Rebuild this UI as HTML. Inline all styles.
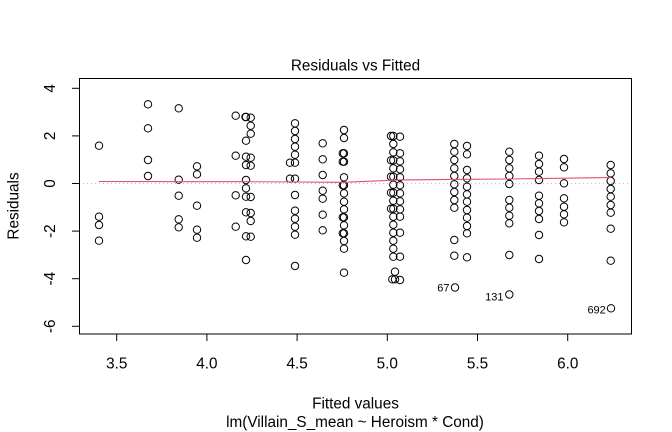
<!DOCTYPE html>
<html>
<head>
<meta charset="utf-8">
<style>
  html, body { margin: 0; padding: 0; background: #ffffff; }
  svg { display: block; }
  text { font-family: "Liberation Sans", Arial, sans-serif; fill: #000; }
</style>
</head>
<body>
<svg width="672" height="432" viewBox="0 0 672 432" xmlns="http://www.w3.org/2000/svg">
  <rect x="0" y="0" width="672" height="432" fill="#fff"/>

  <!-- zero reference line -->
  <line x1="79" y1="183.5" x2="632" y2="183.5" stroke="#bebebe" stroke-width="1" stroke-dasharray="1 3"/>

  <!-- points -->
  <g fill="none" stroke="#000" stroke-width="1">
    <!-- 3.41 -->
    <circle cx="99" cy="145.7" r="3.7"/><circle cx="99" cy="216.7" r="3.7"/><circle cx="99" cy="225" r="3.7"/><circle cx="99" cy="240.7" r="3.7"/>
    <!-- 3.68 -->
    <circle cx="148" cy="104.3" r="3.7"/><circle cx="148" cy="128.3" r="3.7"/><circle cx="148" cy="160" r="3.7"/><circle cx="148" cy="176" r="3.7"/>
    <!-- 3.84 -->
    <circle cx="178.7" cy="108.3" r="3.7"/><circle cx="178.7" cy="179.7" r="3.7"/><circle cx="178.7" cy="195.7" r="3.7"/><circle cx="178.7" cy="219.3" r="3.7"/><circle cx="178.7" cy="227.3" r="3.7"/>
    <!-- 3.95 -->
    <circle cx="197" cy="166.3" r="3.7"/><circle cx="197" cy="174.3" r="3.7"/><circle cx="197" cy="205.7" r="3.7"/><circle cx="197" cy="229.7" r="3.7"/><circle cx="197" cy="237.7" r="3.7"/>
    <!-- 4.17 -->
    <circle cx="235.7" cy="115.7" r="3.7"/><circle cx="235.7" cy="155.7" r="3.7"/><circle cx="235.7" cy="195.3" r="3.7"/><circle cx="235.7" cy="226.7" r="3.7"/>
    <!-- 4.22 -->
    <circle cx="246" cy="117" r="3.7"/><circle cx="245.5" cy="117" r="3.7"/><circle cx="246" cy="140.7" r="3.7"/><circle cx="246" cy="156.7" r="3.7"/><circle cx="246" cy="165" r="3.7"/><circle cx="246" cy="180" r="3.7"/><circle cx="246" cy="188.3" r="3.7"/><circle cx="246" cy="196.7" r="3.7"/><circle cx="246" cy="212.3" r="3.7"/><circle cx="246" cy="236.3" r="3.7"/><circle cx="246" cy="260" r="3.7"/>
    <!-- 4.25 -->
    <circle cx="250.7" cy="117.7" r="3.7"/><circle cx="250.7" cy="125.7" r="3.7"/><circle cx="250.7" cy="133.7" r="3.7"/><circle cx="250.7" cy="157.7" r="3.7"/><circle cx="250.7" cy="165.7" r="3.7"/><circle cx="250.7" cy="197" r="3.7"/><circle cx="250.7" cy="213" r="3.7"/><circle cx="250.7" cy="221" r="3.7"/><circle cx="250.7" cy="236.7" r="3.7"/>
    <!-- 4.49 -->
    <circle cx="295" cy="123.3" r="3.7"/><circle cx="295" cy="131" r="3.7"/><circle cx="295" cy="139" r="3.7"/><circle cx="295" cy="146.7" r="3.7"/><circle cx="295" cy="154.7" r="3.7"/><circle cx="295" cy="162.7" r="3.7"/><circle cx="290" cy="162.7" r="3.7"/><circle cx="295" cy="178.7" r="3.7"/><circle cx="290" cy="178.7" r="3.7"/><circle cx="295" cy="195" r="3.7"/><circle cx="295" cy="210.7" r="3.7"/><circle cx="295" cy="218.7" r="3.7"/><circle cx="295" cy="226.7" r="3.7"/><circle cx="295" cy="234.7" r="3.7"/><circle cx="295" cy="266" r="3.7"/>
    <!-- 4.64 -->
    <circle cx="322.7" cy="143.3" r="3.7"/><circle cx="322.7" cy="159.3" r="3.7"/><circle cx="322.7" cy="175" r="3.7"/><circle cx="322.7" cy="190.7" r="3.7"/><circle cx="322.7" cy="198.7" r="3.7"/><circle cx="322.7" cy="214.7" r="3.7"/><circle cx="322.7" cy="230.3" r="3.7"/>
    <!-- 4.76 -->
    <circle cx="344" cy="130" r="3.7"/><circle cx="344" cy="138" r="3.7"/><circle cx="344" cy="153.3" r="3.7"/><circle cx="342.8" cy="153.3" r="3.7"/><circle cx="344" cy="161.7" r="3.7"/><circle cx="342.8" cy="161.7" r="3.7"/><circle cx="344" cy="177.3" r="3.7"/><circle cx="344" cy="185.3" r="3.7"/><circle cx="342.8" cy="185.3" r="3.7"/><circle cx="344" cy="193.3" r="3.7"/><circle cx="344" cy="201.7" r="3.7"/><circle cx="344" cy="209.3" r="3.7"/><circle cx="344" cy="217.3" r="3.7"/><circle cx="342.8" cy="217.3" r="3.7"/><circle cx="344" cy="225.3" r="3.7"/><circle cx="344" cy="233.3" r="3.7"/><circle cx="342.8" cy="233.3" r="3.7"/><circle cx="344" cy="241" r="3.7"/><circle cx="344" cy="248.7" r="3.7"/><circle cx="344" cy="272.7" r="3.7"/>
    <!-- 5.03 -->
    <circle cx="393.3" cy="136" r="3.7"/><circle cx="391" cy="136" r="3.7"/><circle cx="393.3" cy="144" r="3.7"/><circle cx="393.3" cy="152.3" r="3.7"/><circle cx="393.3" cy="160.3" r="3.7"/><circle cx="391" cy="160.3" r="3.7"/><circle cx="393.3" cy="168.3" r="3.7"/><circle cx="393.3" cy="176.7" r="3.7"/><circle cx="391" cy="176.7" r="3.7"/><circle cx="393.3" cy="184.7" r="3.7"/><circle cx="393.3" cy="192.7" r="3.7"/><circle cx="391" cy="192.7" r="3.7"/><circle cx="393.3" cy="200.7" r="3.7"/><circle cx="393.3" cy="208.7" r="3.7"/><circle cx="391" cy="208.7" r="3.7"/><circle cx="393.3" cy="216.7" r="3.7"/><circle cx="393.3" cy="224.7" r="3.7"/><circle cx="393.3" cy="232.7" r="3.7"/><circle cx="393.3" cy="240.7" r="3.7"/><circle cx="393.3" cy="248.7" r="3.7"/><circle cx="393.3" cy="256.7" r="3.7"/><circle cx="395" cy="271.7" r="3.7"/><circle cx="392.3" cy="279.3" r="3.7"/><circle cx="395" cy="279.3" r="3.7"/>
    <!-- 5.07 -->
    <circle cx="400" cy="136.7" r="3.7"/><circle cx="400" cy="153.3" r="3.7"/><circle cx="400" cy="161.3" r="3.7"/><circle cx="400" cy="169.3" r="3.7"/><circle cx="400" cy="177.3" r="3.7"/><circle cx="400" cy="185.3" r="3.7"/><circle cx="400" cy="193.3" r="3.7"/><circle cx="400" cy="201.3" r="3.7"/><circle cx="400" cy="209.3" r="3.7"/><circle cx="400" cy="216.7" r="3.7"/><circle cx="400" cy="232.7" r="3.7"/><circle cx="400" cy="256.7" r="3.7"/><circle cx="400" cy="280" r="3.7"/>
    <!-- 5.37 -->
    <circle cx="454.3" cy="144" r="3.7"/><circle cx="454.3" cy="151.7" r="3.7"/><circle cx="454.3" cy="160" r="3.7"/><circle cx="454.3" cy="168.3" r="3.7"/><circle cx="454.3" cy="176" r="3.7"/><circle cx="454.3" cy="184.3" r="3.7"/><circle cx="454.3" cy="192" r="3.7"/><circle cx="454.3" cy="200" r="3.7"/><circle cx="454.3" cy="207.7" r="3.7"/><circle cx="454.3" cy="240" r="3.7"/><circle cx="454.3" cy="255.7" r="3.7"/><circle cx="455" cy="287.5" r="3.7"/>
    <!-- 5.44 -->
    <circle cx="467" cy="146" r="3.7"/><circle cx="467" cy="154.3" r="3.7"/><circle cx="467" cy="170" r="3.7"/><circle cx="467" cy="178.3" r="3.7"/><circle cx="467" cy="186.7" r="3.7"/><circle cx="467" cy="194.3" r="3.7"/><circle cx="467" cy="201.7" r="3.7"/><circle cx="467" cy="210" r="3.7"/><circle cx="467" cy="217.7" r="3.7"/><circle cx="467" cy="226" r="3.7"/><circle cx="467" cy="233.3" r="3.7"/><circle cx="467" cy="257.3" r="3.7"/>
    <!-- 5.67 -->
    <circle cx="509.3" cy="151.7" r="3.7"/><circle cx="509.3" cy="160" r="3.7"/><circle cx="509.3" cy="168.3" r="3.7"/><circle cx="509.3" cy="176" r="3.7"/><circle cx="509.3" cy="184" r="3.7"/><circle cx="509.3" cy="200" r="3.7"/><circle cx="509.3" cy="207.7" r="3.7"/><circle cx="509.3" cy="215.7" r="3.7"/><circle cx="509.3" cy="223.3" r="3.7"/><circle cx="509.3" cy="255" r="3.7"/><circle cx="509.3" cy="294.5" r="3.7"/>
    <!-- 5.84 -->
    <circle cx="539" cy="155.7" r="3.7"/><circle cx="539" cy="164" r="3.7"/><circle cx="539" cy="171.7" r="3.7"/><circle cx="539" cy="180" r="3.7"/><circle cx="539" cy="195.7" r="3.7"/><circle cx="539" cy="203.3" r="3.7"/><circle cx="539" cy="211" r="3.7"/><circle cx="539" cy="219" r="3.7"/><circle cx="539" cy="235" r="3.7"/><circle cx="539" cy="259" r="3.7"/>
    <!-- 5.98 -->
    <circle cx="564" cy="159" r="3.7"/><circle cx="564" cy="167.3" r="3.7"/><circle cx="564" cy="183.3" r="3.7"/><circle cx="564" cy="198.3" r="3.7"/><circle cx="564" cy="206.7" r="3.7"/><circle cx="564" cy="214.3" r="3.7"/><circle cx="564" cy="222.3" r="3.7"/>
    <!-- 6.24 -->
    <circle cx="610.7" cy="165" r="3.7"/><circle cx="610.7" cy="173.3" r="3.7"/><circle cx="610.7" cy="181" r="3.7"/><circle cx="610.7" cy="189" r="3.7"/><circle cx="610.7" cy="196.7" r="3.7"/><circle cx="610.7" cy="205" r="3.7"/><circle cx="610.7" cy="212.7" r="3.7"/><circle cx="610.7" cy="228.7" r="3.7"/><circle cx="610.7" cy="260.7" r="3.7"/><circle cx="611" cy="308.3" r="3.7"/>
  </g>

  <!-- smoother -->
  <polyline fill="none" stroke="#DF536B" stroke-width="1.1"
    points="99,181.5 148,181.6 197,181.7 246,181.7 295,182 322.7,182.2 344,182.3 393.3,180.2 400,179.9 454,179.4 467,179.3 509,179 539,178.6 564,178.2 611,177.6"/>

  <!-- point labels -->
  <g font-size="11" text-anchor="end">
    <text x="449.5" y="291.7">67</text>
    <text x="503.5" y="300.7">131</text>
    <text x="605.8" y="313.5">692</text>
  </g>

  <!-- plot box -->
  <rect x="79.5" y="78.5" width="552" height="255.5" fill="none" stroke="#000" stroke-width="1"/>

  <!-- x axis ticks -->
  <g stroke="#000" stroke-width="1">
    <line x1="116.7" y1="334" x2="116.7" y2="341"/>
    <line x1="206.9" y1="334" x2="206.9" y2="341"/>
    <line x1="297.1" y1="334" x2="297.1" y2="341"/>
    <line x1="387.3" y1="334" x2="387.3" y2="341"/>
    <line x1="477.5" y1="334" x2="477.5" y2="341"/>
    <line x1="567.7" y1="334" x2="567.7" y2="341"/>
  </g>
  <g font-size="15.3" text-anchor="middle">
    <text x="116.7" y="368.5">3.5</text>
    <text x="206.9" y="368.5">4.0</text>
    <text x="297.1" y="368.5">4.5</text>
    <text x="387.3" y="368.5">5.0</text>
    <text x="477.5" y="368.5">5.5</text>
    <text x="567.7" y="368.5">6.0</text>
  </g>

  <!-- y axis ticks -->
  <g stroke="#000" stroke-width="1">
    <line x1="72" y1="88.3" x2="79" y2="88.3"/>
    <line x1="72" y1="135.9" x2="79" y2="135.9"/>
    <line x1="72" y1="183.5" x2="79" y2="183.5"/>
    <line x1="72" y1="231.1" x2="79" y2="231.1"/>
    <line x1="72" y1="278.7" x2="79" y2="278.7"/>
    <line x1="72" y1="326.3" x2="79" y2="326.3"/>
  </g>
  <g font-size="15.3" text-anchor="middle">
    <text x="55" y="88.3" transform="rotate(-90 55 88.3)">4</text>
    <text x="55" y="135.9" transform="rotate(-90 55 135.9)">2</text>
    <text x="55" y="183.5" transform="rotate(-90 55 183.5)">0</text>
    <text x="55" y="231.1" transform="rotate(-90 55 231.1)">-2</text>
    <text x="55" y="278.7" transform="rotate(-90 55 278.7)">-4</text>
    <text x="55" y="326.3" transform="rotate(-90 55 326.3)">-6</text>
  </g>

  <!-- titles -->
  <text x="355.5" y="70.5" font-size="15.3" text-anchor="middle">Residuals vs Fitted</text>
  <text x="355.5" y="408.3" font-size="15.3" text-anchor="middle">Fitted values</text>
  <text x="355" y="427" font-size="15.3" text-anchor="middle">lm(Villain_S_mean ~ Heroism * Cond)</text>
  <text x="18.3" y="206" font-size="15.3" text-anchor="middle" transform="rotate(-90 18.3 206)">Residuals</text>
</svg>
</body>
</html>
